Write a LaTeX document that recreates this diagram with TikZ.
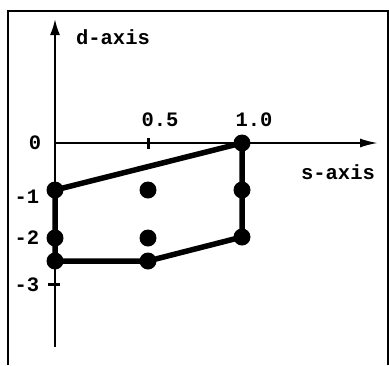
\documentclass[tikz,border=0pt]{standalone}
\usepackage{fontspec}
\setmonofont{Liberation Mono}
\usetikzlibrary{arrows.meta}
\tikzset{
  pt/.style={circle,fill=black,inner sep=0pt,minimum size=17pt},
  lbl/.style={font=\ttfamily\bfseries\fontsize{20.5}{20.5}\selectfont,inner sep=0pt},
  axisline/.style={line width=2pt},
  poly/.style={line width=5.5pt,line join=round},
  frameline/.style={line width=2.5pt}
}
\begin{document}
\begin{tikzpicture}[x=1pt,y=-1pt]
\useasboundingbox (0,0) rectangle (389,365);
% frame
\draw[frameline] (8,365) -- (8,11) -- (388,11) -- (388,365);
% axes
\coordinate (origin) at (55,143);
\coordinate (ytop) at (55,19);
\coordinate (ybot) at (55,347);
\coordinate (xend) at (378,143);
\draw[axisline,-{Latex[length=16pt,width=10pt]}] (ybot) -- (ytop);
\draw[axisline,-{Latex[length=18pt,width=9pt]}] (origin) -- (xend);
% ticks
\coordinate (t5a) at (148,138);
\coordinate (t5b) at (148,149);
\draw[line width=3pt] (t5a) -- (t5b);
\coordinate (t3a) at (48,284);
\coordinate (t3b) at (60,284);
\draw[line width=3pt] (t3a) -- (t3b);
% labels
\node[lbl] (dax) at (113,37) {d-axis};
\node[lbl] (sax) at (338,172) {s-axis};
\node[lbl] (l05) at (160,120) {0.5};
\node[lbl] (l10) at (254,120) {1.0};
\node[lbl] (l0) at (35,143) {0};
\node[lbl] (lm1) at (27,197) {-1};
\node[lbl] (lm2) at (27,238) {-2};
\node[lbl] (lm3) at (27,285) {-3};
% points
\node[pt] (a) at (55,190) {};
\node[pt] (b) at (55,238) {};
\node[pt] (c) at (55,261) {};
\node[pt] (d) at (148,190) {};
\node[pt] (e) at (148,238) {};
\node[pt] (f) at (148,261) {};
\node[pt] (g) at (242,143) {};
\node[pt] (h) at (242,190) {};
\node[pt] (i) at (242,237) {};
% polygon
\draw[poly] (a.center) -- (g.center) -- (i.center) -- (f.center) -- (c.center) -- cycle;
\end{tikzpicture}
\end{document}
